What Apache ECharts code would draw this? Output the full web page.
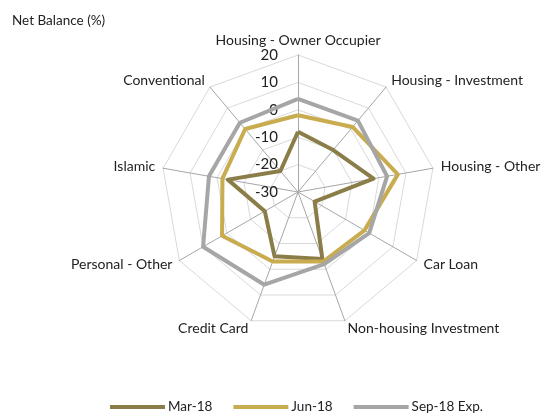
<!DOCTYPE html>
<html>
<head>
<meta charset="utf-8">
<script src="https://cdn.jsdelivr.net/npm/echarts@6/dist/echarts.min.js"></script>
<style>
  html, body { margin: 0; padding: 0; background: #fff; }
  #chart { width: 543px; height: 416px; }
</style>
</head>
<body>
<div id="chart"></div>
<script>
// categories (clockwise from top)
const categories = [
  "Housing - Owner Occupier",
  "Housing - Investment",
  "Housing - Other",
  "Car Loan",
  "Non-housing Investment",
  "Credit Card",
  "Personal - Other",
  "Islamic",
  "Conventional"
];
const seriesNames = ["Mar-18", "Jun-18", "Sep-18 Exp."];
const mar18 = [-8, -10, -2, -23, -4, -5, -16, -4, -20];
const jun18 = [-2, 1, 7, -2, -3, -3, 2, -2, 0];
const sep18 = [4, 4, 3, 0, -2, 6, 10, 3, 3];
const axisMin = -30, axisMax = 20, axisStep = 10;

const colors = ["#8a7d48", "#c9ac50", "#a6a6a6"];
const font = "Lato, 'Open Sans', sans-serif";

// echarts radar runs counter-clockwise, so keep the first and reverse the rest
const order = [0].concat(categories.map((c, i) => i).slice(1).reverse());
const pick = arr => order.map(i => arr[i]);

const chart = echarts.init(document.getElementById("chart"));

const indicator = order.map((idx, i) => {
  const ind = { name: categories[idx], min: axisMin, max: axisMax };
  if (i === 0) ind.axisLabel = { show: true };
  return ind;
});

chart.setOption({
  color: colors,
  title: {
    text: "Net Balance (%)",
    left: 7,
    top: 9,
    textStyle: { fontFamily: font, fontSize: 13.5, fontWeight: "normal", color: "#222" }
  },
  legend: {
    left: 105,
    top: 395,
    data: seriesNames,
    icon: "rect",
    itemWidth: 55,
    itemHeight: 4,
    itemGap: 21,
    textStyle: { fontFamily: font, fontSize: 13.5, color: "#222", padding: [0, 0, 0, -2] }
  },
  radar: {
    center: [298, 192],
    radius: 137,
    startAngle: 90,
    shape: "polygon",
    splitNumber: (axisMax - axisMin) / axisStep,
    indicator: indicator,
    axisName: { color: "#222", fontFamily: font, fontSize: 14 },
    nameGap: 8,
    axisLine: { lineStyle: { color: "#a6a6a6", width: 1 } },
    splitLine: { lineStyle: { color: "#d9d9d9", width: 1 } },
    splitArea: { show: false },
    axisTick: { show: false },
    axisLabel: {
      show: false,
      color: "#222",
      fontFamily: font,
      fontSize: 15,
      margin: 20,
      align: "right",
      verticalAlign: "middle"
    }
  },
  series: [{
    type: "radar",
    symbol: "none",
    lineStyle: { width: 4 },
    data: [
      { name: seriesNames[0], value: pick(mar18), lineStyle: { color: colors[0] } },
      { name: seriesNames[1], value: pick(jun18), lineStyle: { color: colors[1] } },
      { name: seriesNames[2], value: pick(sep18), lineStyle: { color: colors[2] } }
    ]
  }]
});
</script>
</body>
</html>
